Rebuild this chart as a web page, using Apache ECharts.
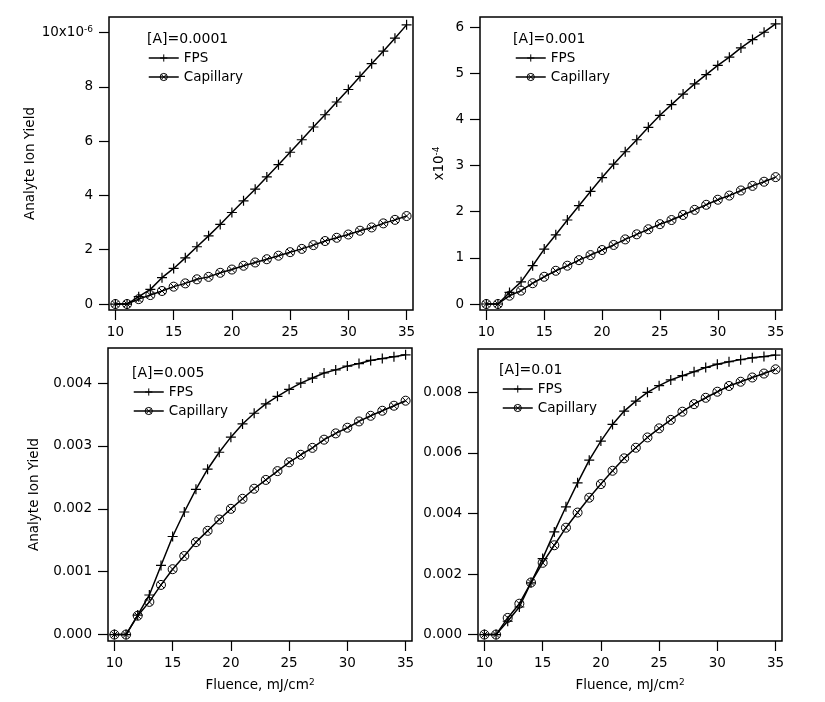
<!DOCTYPE html>
<html><head><meta charset="utf-8">
<script src="https://cdn.jsdelivr.net/npm/echarts@6/dist/echarts.min.js"></script>
<style>html,body{margin:0;padding:0;background:#fff}#c{width:825px;height:702px}</style>
</head><body><div id="c"></div>
<script>
// Fluence, mJ/cm^2
const fluence = [10,11,12,13,14,15,16,17,18,19,20,21,22,23,24,25,26,27,28,29,30,31,32,33,34,35];

// [A]=0.0001, values in units of 1e-6
const fps0001 = [0,0,0.27,0.54,0.97,1.31,1.70,2.11,2.51,2.93,3.37,3.80,4.23,4.68,5.13,5.59,6.05,6.52,6.97,7.44,7.90,8.38,8.85,9.31,9.79,10.28];
const cap0001 = [0,0,0.18,0.33,0.48,0.64,0.76,0.91,1.00,1.15,1.27,1.41,1.53,1.65,1.78,1.91,2.03,2.17,2.32,2.44,2.56,2.70,2.82,2.97,3.10,3.24];

// [A]=0.001, values in units of 1e-4
const fps001 = [0,0,0.25,0.48,0.83,1.19,1.50,1.82,2.13,2.44,2.74,3.03,3.30,3.56,3.83,4.09,4.32,4.55,4.77,4.97,5.17,5.35,5.55,5.73,5.89,6.07];
const cap001 = [0,0,0.18,0.29,0.45,0.59,0.72,0.83,0.95,1.06,1.17,1.28,1.40,1.51,1.62,1.73,1.82,1.93,2.04,2.15,2.26,2.35,2.46,2.56,2.65,2.75];

// [A]=0.005
const fps005 = [0,0,0.00031,0.00063,0.00110,0.00156,0.00195,0.00231,0.00263,0.00290,0.00314,0.00335,0.00352,0.00367,0.00379,0.00390,0.00400,0.00408,0.00416,0.00421,0.00427,0.00431,0.00436,0.00439,0.00442,0.00445];
const cap005 = [0,0,0.00030,0.00052,0.00079,0.00104,0.00125,0.00147,0.00165,0.00183,0.00200,0.00216,0.00232,0.00246,0.00260,0.00274,0.00286,0.00297,0.00310,0.00320,0.00329,0.00339,0.00348,0.00356,0.00364,0.00372];

// [A]=0.01
const fps01 = [0,0,0.00044,0.00091,0.00171,0.00251,0.00339,0.00422,0.00501,0.00576,0.00639,0.00694,0.00738,0.00771,0.00800,0.00822,0.00841,0.00855,0.00868,0.00882,0.00893,0.00901,0.00908,0.00914,0.00918,0.00923];
const cap01 = [0,0,0.00055,0.00102,0.00172,0.00237,0.00295,0.00353,0.00403,0.00452,0.00497,0.00541,0.00582,0.00617,0.00651,0.00681,0.00709,0.00736,0.00761,0.00782,0.00802,0.00821,0.00835,0.00849,0.00862,0.00876];

const concLabels = ['[A]=0.0001','[A]=0.001','[A]=0.005','[A]=0.01'];
const seriesNames = ['FPS','Capillary'];
const xTicks = [10,15,20,25,30,35];
const yTicksTL = [0,2,4,6,8,10];
const yTicksTR = [0,1,2,3,4,5,6];
const yTicksBL = [0,0.001,0.002,0.003,0.004];
const yTicksBR = [0,0.002,0.004,0.006,0.008];
const yNameLeft = 'Analyte Ion Yield';
const yNameTR = 'x10{sup|-4}';
const xName = 'Fluence, mJ/cm{sup|2}';

const FONT = 'DejaVu Sans';
const PLUS = 'path://M5,0L5,10M0,5L10,5';
const CIRCX = 'path://M0,5A5,5,0,1,1,10,5A5,5,0,1,1,0,5ZM1.46,1.46L8.54,8.54M1.46,8.54L8.54,1.46';

const panels = [
  {grid:{left:109,top:17,width:304,height:293}, yMin:-0.22, yMax:10.57, yTicks:yTicksTL,
   fmt:v => v === 10 ? '10x10{sup|-6}' : String(v), yName:yNameLeft, nameGap:61, xName:'',
   fps:fps0001, cap:cap0001, title:[147,32], legend:[148,51]},
  {grid:{left:480,top:17,width:302,height:293}, yMin:-0.13, yMax:6.22, yTicks:yTicksTR,
   fmt:v => String(v), yName:yNameTR, nameGap:33, xName:'',
   fps:fps001, cap:cap001, title:[513,32], legend:[515,51]},
  {grid:{left:108,top:348,width:304,height:293}, yMin:-0.000102, yMax:0.004558, yTicks:yTicksBL,
   fmt:v => v.toFixed(3), yName:yNameLeft, nameGap:67, xName:xName,
   fps:fps005, cap:cap005, title:[132,366], legend:[133,385]},
  {grid:{left:478,top:349,width:304,height:292}, yMin:-0.000212, yMax:0.009431, yTicks:yTicksBR,
   fmt:v => v.toFixed(3), yName:'', nameGap:60, xName:xName,
   fps:fps01, cap:cap01, title:[499,363], legend:[502,382]}
];

const txt = {color:'#000', fontFamily:FONT, fontSize:13.5};
const supRich = {sup:{fontFamily:FONT, fontSize:9, color:'#000', verticalAlign:'top', padding:[0,0,6,0]}};

const option = {
  backgroundColor:'#fff',
  animation:false,
  grid:[], xAxis:[], yAxis:[], series:[], title:[], legend:[]
};

panels.forEach((p,i) => {
  option.grid.push(Object.assign({show:true, borderColor:'#000', borderWidth:1.5, backgroundColor:'transparent'}, p.grid));
  option.xAxis.push({
    type:'value', gridIndex:i, min:9.45, max:35.55,
    axisLine:{show:false, onZero:false},
    axisTick:{show:true, inside:false, length:10, customValues:xTicks, lineStyle:{color:'#000', width:1.2}},
    axisLabel:Object.assign({customValues:xTicks, margin:15}, txt),
    splitLine:{show:false},
    name:p.xName, nameLocation:'middle', nameGap:37,
    nameTextStyle:Object.assign({rich:supRich}, txt)
  });
  option.yAxis.push({
    type:'value', gridIndex:i, min:p.yMin, max:p.yMax,
    axisLine:{show:false, onZero:false},
    axisTick:{show:true, inside:false, length:10, customValues:p.yTicks, lineStyle:{color:'#000', width:1.2}},
    axisLabel:Object.assign({customValues:p.yTicks, margin:16, formatter:p.fmt, rich:supRich}, txt),
    splitLine:{show:false},
    name:p.yName, nameLocation:'middle', nameGap:p.nameGap, nameRotate:90,
    nameTextStyle:Object.assign({rich:supRich}, txt)
  });
  option.series.push({
    type:'line', name:seriesNames[0], xAxisIndex:i, yAxisIndex:i,
    data:fluence.map((x,k) => [x, p.fps[k]]),
    symbol:PLUS, symbolSize:10, showAllSymbol:true,
    lineStyle:{color:'#000', width:1.5},
    itemStyle:{color:'#000', borderColor:'#000', borderWidth:1.2}
  });
  option.series.push({
    type:'line', name:seriesNames[1], xAxisIndex:i, yAxisIndex:i,
    data:fluence.map((x,k) => [x, p.cap[k]]),
    symbol:CIRCX, symbolSize:9, showAllSymbol:true,
    lineStyle:{color:'#000', width:1.5},
    itemStyle:{color:'rgba(0,0,0,0)', borderColor:'#000', borderWidth:1}
  });
  option.title.push({
    text:concLabels[i], left:p.title[0], top:p.title[1], padding:0,
    textStyle:{color:'#000', fontFamily:FONT, fontSize:14, fontWeight:'normal'}
  });
  option.legend.push({
    data:seriesNames, orient:'vertical', left:p.legend[0], top:p.legend[1], padding:0,
    itemWidth:30, itemHeight:9, itemGap:5, itemTextGap:6, selectedMode:false,
    itemStyle:{color:'rgba(0,0,0,0)', borderColor:'#000', borderWidth:1},
    lineStyle:{color:'#000', width:1.5},
    textStyle:{color:'#000', fontFamily:FONT, fontSize:13.5}
  });
});

const chart = echarts.init(document.getElementById('c'), null, {renderer:'canvas'});
chart.setOption(option);
</script>
</body></html>
